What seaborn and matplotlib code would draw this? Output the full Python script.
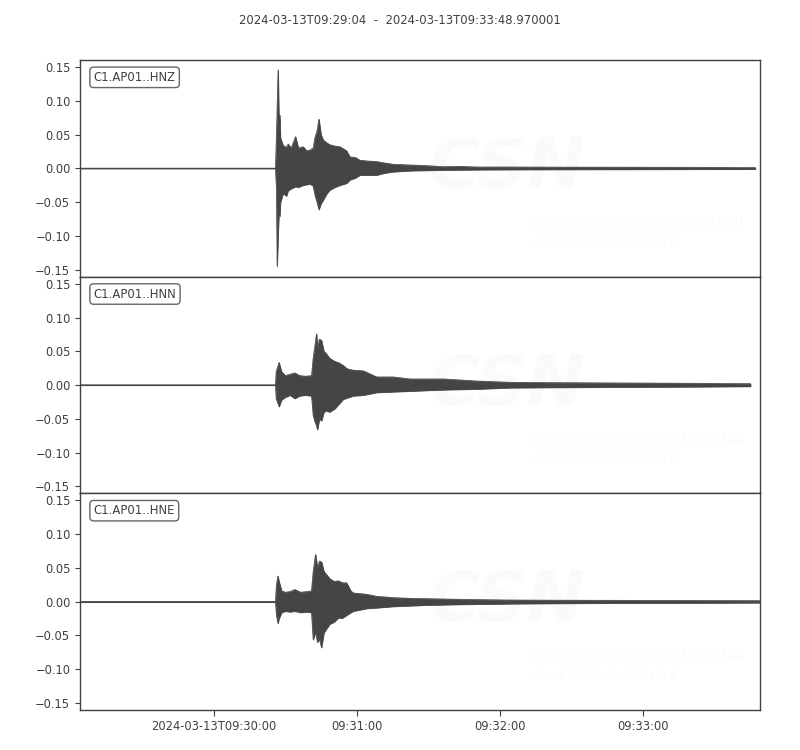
import matplotlib
matplotlib.use('Agg')
import matplotlib.pyplot as plt
import pandas as pd
import seaborn as sns

# envelope of each trace
# time in seconds after 2024-03-13T09:29:04, upper / lower amplitude
t_hnz = [0, 81.9, 82.3, 82.6, 83.0, 83.4, 83.7, 84.0, 85.1, 86.5,
         87.2, 88.5, 90.3, 91.5, 93.5, 95.0, 96.3, 97.7, 98.4, 99.3,
         100.1, 101.0, 101.9, 103.3, 104.7, 106.8, 108.9, 111.7, 113.1, 115.5,
         117.3, 120.1, 124.3, 127.5, 131.3, 138.3, 145.3, 152.2, 159.2, 166.2,
         180.2, 200, 230, 260, 283]
up_hnz = [0.0003, 0.0003, 0.047, 0.09, 0.146, 0.06, 0.079, 0.045, 0.034, 0.031,
          0.036, 0.030, 0.047, 0.030, 0.032, 0.026, 0.027, 0.030, 0.045, 0.055,
          0.073, 0.050, 0.042, 0.038, 0.035, 0.033, 0.032, 0.026, 0.017, 0.016,
          0.012, 0.011, 0.010, 0.008, 0.006, 0.005, 0.004, 0.0025, 0.003, 0.002,
          0.002, 0.0018, 0.0017, 0.0015, 0.0012]
lo_hnz = [-0.0003, -0.0003, -0.03, -0.145, -0.10, -0.06, -0.071, -0.05, -0.037, -0.041,
          -0.033, -0.030, -0.027, -0.028, -0.025, -0.024, -0.023, -0.026, -0.039, -0.050,
          -0.061, -0.052, -0.047, -0.038, -0.032, -0.028, -0.025, -0.022, -0.017, -0.014,
          -0.010, -0.010, -0.010, -0.007, -0.005, -0.0035, -0.003, -0.0025, -0.0022, -0.002,
          -0.0018, -0.0016, -0.0015, -0.0013, -0.0012]

t_hnn = [0, 81.9, 82.2, 83.4, 84.4, 86.0, 88.0, 90.0, 92.0, 94.5,
         97.0, 97.7, 98.5, 99.1, 99.5, 100.3, 101.2, 102.2, 103.3, 104.5,
         106.8, 108.5, 110.3, 112.0, 114.5, 118.7, 124.3, 131.2, 138.3, 152.2,
         166.2, 180.2, 200, 230, 260, 281]
up_hnn = [0.0003, 0.0003, 0.02, 0.0335, 0.020, 0.014, 0.016, 0.018, 0.014, 0.013,
          0.014, 0.040, 0.060, 0.076, 0.055, 0.068, 0.066, 0.050, 0.046, 0.040,
          0.035, 0.033, 0.029, 0.024, 0.022, 0.021, 0.012, 0.012, 0.009, 0.009,
          0.006, 0.004, 0.0035, 0.003, 0.0025, 0.002]
lo_hnn = [-0.0003, -0.0003, -0.02, -0.032, -0.022, -0.018, -0.015, -0.020, -0.016, -0.015,
          -0.016, -0.045, -0.055, -0.060, -0.066, -0.05, -0.053, -0.040, -0.038, -0.040,
          -0.035, -0.028, -0.021, -0.019, -0.016, -0.015, -0.011, -0.010, -0.009, -0.007,
          -0.006, -0.004, -0.0035, -0.003, -0.0025, -0.002]

t_hne = [0, 81.9, 82.3, 82.9, 83.4, 84.5, 86.0, 88.0, 90.0, 92.5,
         95.0, 97.0, 97.7, 98.7, 99.5, 100.3, 101.2, 102.2, 103.3, 104.7,
         106.5, 108.2, 110.0, 111.7, 113.5, 114.5, 117.3, 120.1, 124.3, 131.3,
         138.3, 145.3, 159.2, 180.2, 200, 230, 260, 285]
up_hne = [0.0003, 0.0003, 0.025, 0.038, 0.030, 0.016, 0.014, 0.015, 0.018, 0.014,
          0.015, 0.016, 0.045, 0.070, 0.050, 0.060, 0.059, 0.045, 0.040, 0.034,
          0.030, 0.031, 0.028, 0.028, 0.016, 0.013, 0.012, 0.011, 0.008, 0.006,
          0.005, 0.0045, 0.0035, 0.0025, 0.0022, 0.002, 0.0018, 0.0015]
lo_hne = [-0.0003, -0.0003, -0.02, -0.032, -0.025, -0.016, -0.014, -0.015, -0.014, -0.016,
          -0.015, -0.016, -0.056, -0.045, -0.060, -0.055, -0.068, -0.046, -0.040, -0.033,
          -0.030, -0.024, -0.024, -0.020, -0.016, -0.014, -0.012, -0.010, -0.009, -0.007,
          -0.006, -0.005, -0.004, -0.003, -0.0025, -0.002, -0.0018, -0.0015]

channels = ['C1.AP01..HNZ', 'C1.AP01..HNN', 'C1.AP01..HNE']
traces = [(t_hnz, up_hnz, lo_hnz), (t_hnn, up_hnn, lo_hnn), (t_hne, up_hne, lo_hne)]

title = '2024-03-13T09:29:04  -  2024-03-13T09:33:48.970001'
duration = 284.970001
yticks = [-0.15, -0.10, -0.05, 0.0, 0.05, 0.10, 0.15]
xticks = [56, 116, 176, 236]
xticklabels = ['2024-03-13T09:30:00', '09:31:00', '09:32:00', '09:33:00']

sns.set_theme(style='ticks')
grey = '#404040'
wave = '#454545'
plt.rcParams['font.family'] = ['DejaVu Sans']
plt.rcParams.update({
    'axes.edgecolor': grey, 'axes.linewidth': 1.0,
    'xtick.color': grey, 'ytick.color': grey, 'text.color': grey,
    'xtick.major.width': 0.8, 'ytick.major.width': 0.8,
    'xtick.major.size': 4, 'ytick.major.size': 3.5,
})

fig, axes = plt.subplots(3, 1, figsize=(8, 7.5), dpi=100, sharex=True, sharey=True)
fig.subplots_adjust(left=0.1, right=0.95, top=0.92, bottom=0.0533, hspace=0)

for ax, name, (t, up, lo) in zip(axes, channels, traces):
    df = pd.DataFrame({'t': t, 'up': up, 'lo': lo})
    ax.fill_between(df['t'], df['lo'], df['up'], color=wave, lw=0.5, zorder=2)
    sns.lineplot(data=df, x='t', y='up', ax=ax, color=wave, lw=0.5, zorder=3)
    sns.lineplot(data=df, x='t', y='lo', ax=ax, color=wave, lw=0.5, zorder=3)

    # faint CSN watermark
    ax.text(0.628, 0.50, 'CSN', transform=ax.transAxes, ha='center', va='center',
            fontsize=50, fontweight='bold', fontstyle='italic', color='k', alpha=0.018, zorder=0)
    ax.text(0.665, 0.25, 'CENTRO SISMOLÓGICO NACIONAL', transform=ax.transAxes,
            ha='left', va='center', fontsize=9, fontstyle='italic', color='k', alpha=0.02, zorder=0)
    ax.text(0.66, 0.155, 'UNIVERSIDAD DE CHILE', transform=ax.transAxes,
            ha='left', va='center', fontsize=9, fontstyle='italic', color='k', alpha=0.02, zorder=0)

    ax.text(0.02, 0.95, name, transform=ax.transAxes, ha='left', va='top', fontsize=8.4,
            color=grey, zorder=5,
            bbox=dict(boxstyle='round,pad=0.32', fc='white', ec='#555555', lw=1.0, alpha=0.9))

    ax.set_xlabel('')
    ax.set_ylabel('')
    ax.set_yticks(yticks)
    ax.tick_params(axis='y', labelsize=8.3)
    ax.tick_params(axis='x', bottom=False, labelbottom=False)

ax = axes[-1]
ax.set_xlim(0, duration)
ax.set_ylim(-0.1605, 0.1605)
ax.set_xticks(xticks)
ax.set_xticklabels(xticklabels)
ax.tick_params(axis='x', bottom=True, labelbottom=True, labelsize=8.3)

fig.suptitle(title, y=0.973, va='center', fontsize=8.4, color=grey)

fig.savefig('out.png', dpi=100)
